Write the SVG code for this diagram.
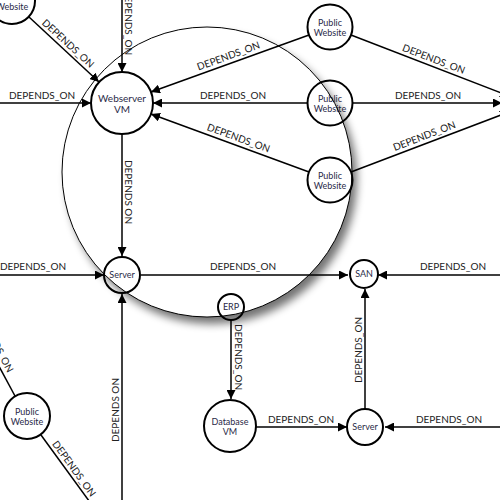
<svg xmlns="http://www.w3.org/2000/svg" width="500" height="500" viewBox="0 0 500 500">
<style>
.e{stroke:#000;stroke-width:1.5;fill:none}
.a{marker-end:url(#arr)}
.l{font-family:Lato,"Open Sans",sans-serif;font-size:10px;fill:#222;text-anchor:middle}
.n circle{fill:#fff;stroke:#000;stroke-width:2}
.n text{font-family:Lato,"Open Sans",sans-serif;font-size:9px;fill:#2a2a48;text-anchor:middle}
</style>
<defs>
<marker id="arr" viewBox="0 0 10 10" refX="10" refY="5" markerWidth="9" markerHeight="9" markerUnits="userSpaceOnUse" orient="auto">
<path d="M0,0 L10,5 L0,10 z" fill="#000"/>
</marker>
<filter id="blur" x="-20%" y="-20%" width="140%" height="140%"><feGaussianBlur stdDeviation="4"/></filter>
<mask id="outside" maskUnits="userSpaceOnUse" x="0" y="0" width="500" height="500">
<rect x="0" y="0" width="500" height="500" fill="#fff"/>
<circle cx="207" cy="172" r="145" fill="#000"/>
</mask>
</defs>
<rect width="500" height="500" fill="#fff"/>
<g id="connectors">
<line class="e a" x1="29" y1="17" x2="99" y2="82"/>
<text class="l" transform="translate(63,49) rotate(42.5)" y="-4">DEPENDS_ON</text>
<line class="e a" x1="122" y1="0" x2="122" y2="72"/>
<text class="l" transform="translate(125,22) rotate(90)">DEPENDS_ON</text>
<line class="e a" x1="0" y1="103" x2="91" y2="103"/>
<text class="l" x="42" y="99">DEPENDS_ON</text>
<line class="e a" x1="309" y1="35" x2="151" y2="92"/>
<text class="l" transform="translate(231,63) rotate(-20)" y="-4">DEPENDS_ON</text>
<line class="e a" x1="308" y1="103" x2="153" y2="103"/>
<text class="l" x="233" y="99">DEPENDS_ON</text>
<line class="e a" x1="309" y1="172" x2="151" y2="114"/>
<text class="l" transform="translate(236,145) rotate(20)" y="-4">DEPENDS_ON</text>
<line class="e a" x1="351" y1="35" x2="509" y2="96"/>
<text class="l" transform="translate(431,66) rotate(21)" y="-4">DEPENDS_ON</text>
<line class="e a" x1="352" y1="103" x2="502" y2="103"/>
<text class="l" x="428" y="99">DEPENDS_ON</text>
<line class="e a" x1="351" y1="172" x2="509" y2="112"/>
<text class="l" transform="translate(427,143) rotate(-21)" y="-4">DEPENDS_ON</text>
<line class="e a" x1="122" y1="134" x2="122" y2="256"/>
<text class="l" transform="translate(125,192) rotate(90)">DEPENDS ON</text>
<line class="e a" x1="0" y1="275" x2="104" y2="275"/>
<text class="l" x="33" y="270">DEPENDS_ON</text>
<line class="e a" x1="122" y1="500" x2="122" y2="294"/>
<text class="l" transform="translate(119,410) rotate(-90)">DEPENDS ON</text>
<line class="e a" x1="141" y1="275" x2="348" y2="275"/>
<text class="l" x="243" y="270">DEPENDS_ON</text>
<line class="e a" x1="500" y1="275" x2="378" y2="275"/>
<text class="l" x="453" y="270">DEPENDS_ON</text>
<line class="e a" x1="231" y1="320" x2="231" y2="399"/>
<text class="l" transform="translate(235,357) rotate(90)">DEPENDS_ON</text>
<line class="e a" x1="365" y1="409" x2="365" y2="289"/>
<text class="l" transform="translate(362,350) rotate(-90)">DEPENDS_ON</text>
<line class="e a" x1="256" y1="427" x2="347" y2="427"/>
<text class="l" x="301" y="423">DEPENDS_ON</text>
<line class="e a" x1="500" y1="427" x2="385" y2="427"/>
<text class="l" x="449" y="423">DEPENDS_ON</text>
<line class="e" x1="15" y1="396" x2="-14" y2="342"/>
<text class="l" style="text-anchor:end" transform="translate(4,375) rotate(62)" y="-4">DEPENDS_ON</text>
<line class="e" x1="41" y1="435" x2="100" y2="516"/>
<text class="l" transform="translate(68,473) rotate(54)" y="-4">DEPENDS_ON</text>
</g>
<g id="external-website" class="n"><circle cx="12" cy="1" r="23"/><text x="12" y="0">External</text><text x="12" y="10">Website</text></g>
<g id="webserver-vm" class="n"><circle cx="122" cy="103" r="31"/><text x="122" y="102" style="font-size:10px">Webserver</text><text x="122" y="113" style="font-size:10px">VM</text></g>
<g id="public-website-1" class="n"><circle cx="330" cy="27" r="22.5"/><text x="330" y="26">Public</text><text x="330" y="36">Website</text></g>
<g id="public-website-2" class="n"><circle cx="330" cy="103" r="22.5"/><text x="330" y="102">Public</text><text x="330" y="112">Website</text></g>
<g id="public-website-3" class="n"><circle cx="330" cy="180" r="22.5"/><text x="330" y="179">Public</text><text x="330" y="189">Website</text></g>
<g id="server-1" class="n"><circle cx="122" cy="275" r="18"/><text x="122" y="278">Server</text></g>
<g id="san" class="n"><circle cx="364" cy="274" r="14"/><text x="364" y="277">SAN</text></g>
<g id="erp" class="n"><circle cx="231" cy="307" r="13"/><text x="231" y="310">ERP</text></g>
<g id="database-vm" class="n"><circle cx="230" cy="426" r="26"/><text x="230" y="425">Database</text><text x="230" y="435">VM</text></g>
<g id="server-2" class="n"><circle cx="365" cy="427" r="18"/><text x="365" y="430">Server</text></g>
<g id="public-website-4" class="n"><circle cx="27" cy="416" r="23"/><text x="27" y="415">Public</text><text x="27" y="425">Website</text></g>
<g id="lens">
<g mask="url(#outside)"><circle cx="212" cy="179" r="145" fill="#000" opacity="0.55" filter="url(#blur)"/></g>
<circle cx="207" cy="172" r="145" fill="none" stroke="#000" stroke-width="1"/>
</g>
</svg>
